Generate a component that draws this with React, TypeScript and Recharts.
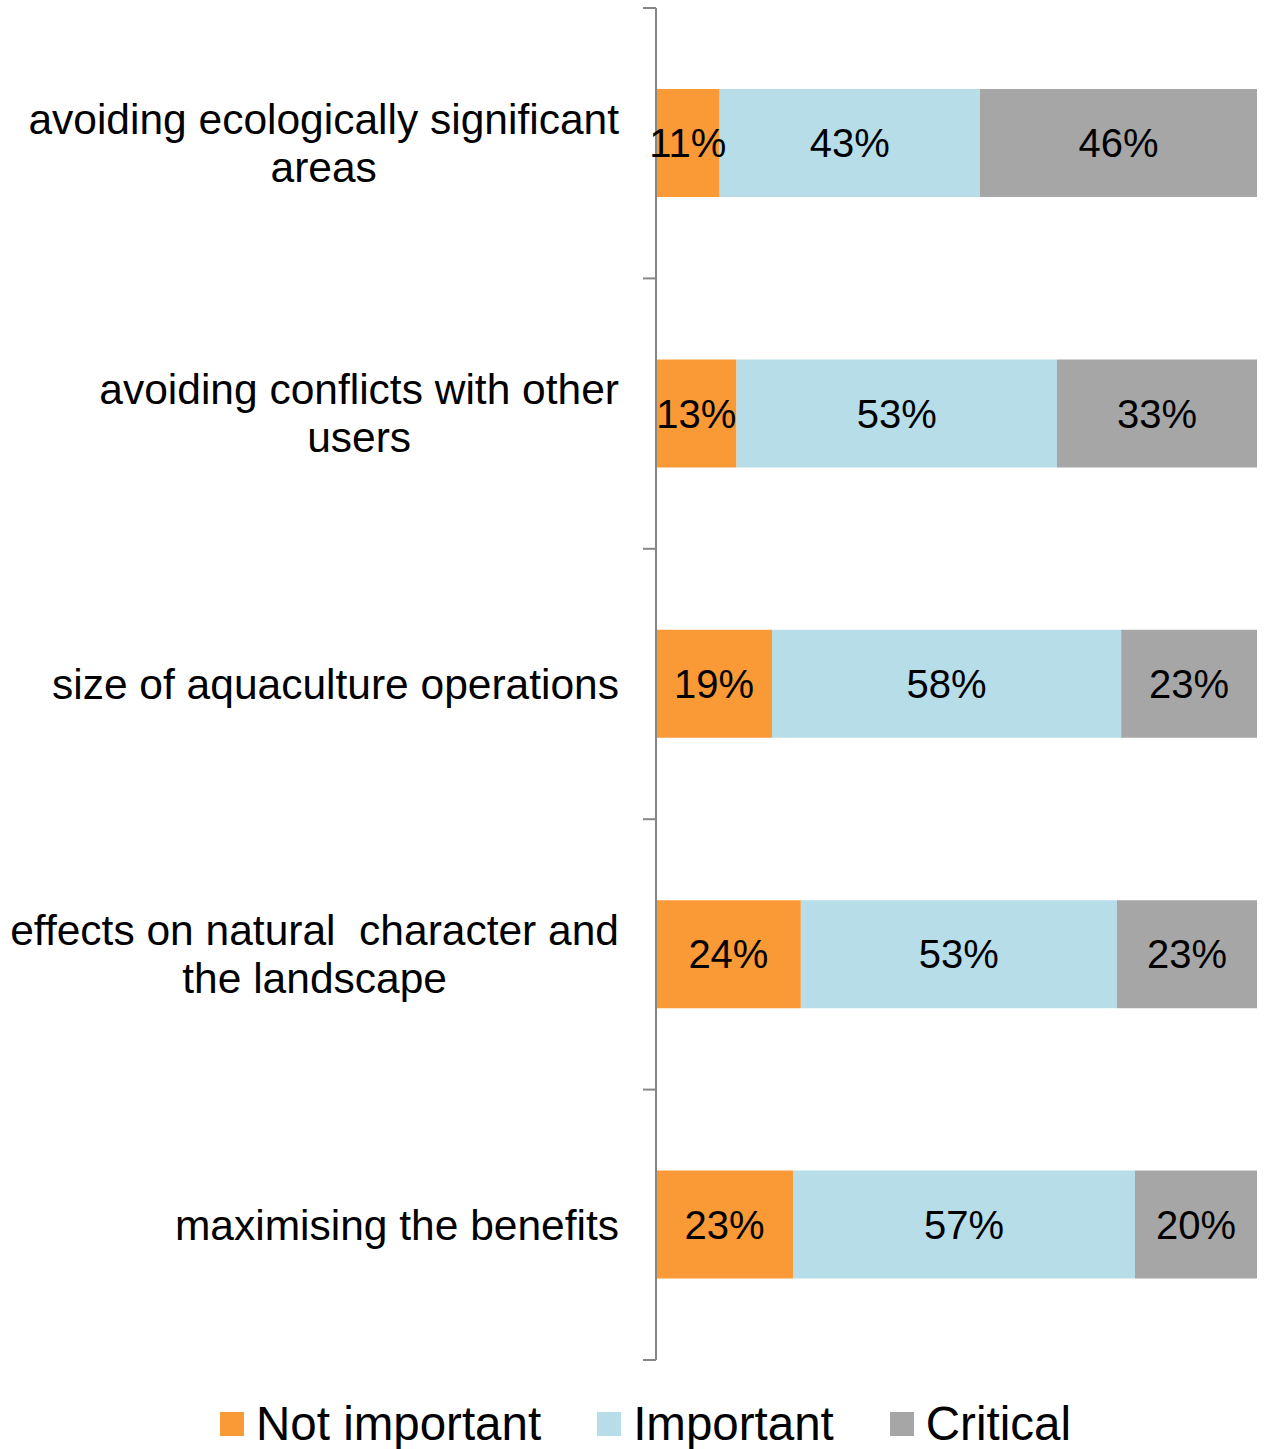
import { BarChart, Bar, XAxis, YAxis, Legend, LabelList } from "recharts";

const categories = [
    "avoiding ecologically significant\nareas",
    "avoiding conflicts with other\nusers",
    "size of aquaculture operations",
    "effects on natural  character and\nthe landscape",
    "maximising the benefits",
];
const notImportant = [10.6, 13.4, 19.3, 24.1, 22.8];
const important = [43.3, 53.3, 58.1, 52.6, 56.9];
const critical = [46.1, 33.3, 22.6, 23.3, 20.3];

const seriesNames = ["Not important", "Important", "Critical"];
const colors = ["#F99A36", "#B7DDE8", "#A6A6A6"];

const FONT = "'Liberation Sans', Arial, sans-serif";
const W = 1267;
const H = 1449;
const TOP = 8;
const LEGEND_H = 89;
const BAND = (H - TOP - LEGEND_H) / categories.length;

const data = categories.map((name, i) => ({
    name,
    notImportant: notImportant[i],
    important: important[i],
    critical: critical[i],
}));

let canvas: HTMLCanvasElement | null = null;
const measure = (s: string, size: number) => {
    if (!canvas) canvas = document.createElement("canvas");
    const ctx = canvas.getContext("2d")!;
    ctx.font = `${size}px ${FONT}`;
    return ctx.measureText(s).width;
};

const CategoryTick = (props: any) => {
    const { x, y, payload, index } = props;
    const ax = x + 8; // axis line position
    const lines = String(payload.value).split("\n");
    const fontSize = 42.5;
    const lineH = 48;
    const maxW = Math.max(...lines.map((l) => measure(l, fontSize)));
    const cx = ax - 37 - maxW / 2;
    const y0 = y - ((lines.length - 1) * lineH) / 2;
    return (
        <g>
            <line x1={ax - 13} x2={ax} y1={y - BAND / 2} y2={y - BAND / 2} stroke="#868686" strokeWidth={2} />
            {index === categories.length - 1 && (
                <line x1={ax - 13} x2={ax} y1={y + BAND / 2} y2={y + BAND / 2} stroke="#868686" strokeWidth={2} />
            )}
            <text textAnchor="middle" fontSize={fontSize} fontFamily={FONT} fill="#000" style={{ whiteSpace: "pre" }}>
                {lines.map((l, i) => (
                    <tspan key={i} x={cx} y={y0 + i * lineH} dy="0.35em">
                        {l}
                    </tspan>
                ))}
            </text>
        </g>
    );
};

const renderLegend = () => (
    <div
        style={{
            height: LEGEND_H,
            boxSizing: "border-box",
            paddingTop: 38,
            paddingLeft: 34,
            display: "flex",
            justifyContent: "center",
            alignItems: "center",
            fontFamily: FONT,
            fontSize: 47.5,
            lineHeight: "54px",
            alignContent: "flex-start",
        }}
    >
        {seriesNames.map((n, i) => (
            <div key={n} style={{ display: "flex", alignItems: "center", marginRight: i < 2 ? 56 : 0 }}>
                <span style={{ display: "inline-block", width: 24, height: 24, background: colors[i], marginRight: 12 }} />
                <span>{n}</span>
            </div>
        ))}
    </div>
);

const pct = (v: any) => `${Math.round(Number(v))}%`;

export default function App() {
    return (
        <div style={{ position: "absolute", left: 0, top: 0, background: "#fff" }}>
            <BarChart
                width={W}
                height={H}
                data={data}
                layout="vertical"
                margin={{ top: TOP, right: 10, bottom: 0, left: 0 }}
            >
                <XAxis type="number" domain={[0, 100]} hide />
                <YAxis
                    type="category"
                    dataKey="name"
                    width={656}
                    axisLine={{ stroke: "#868686", strokeWidth: 2 }}
                    tickLine={false}
                    interval={0}
                    tick={<CategoryTick />}
                />
                <Legend verticalAlign="bottom" content={renderLegend} />
                {(["notImportant", "important", "critical"] as const).map((k, i) => (
                    <Bar
                        key={k}
                        dataKey={k}
                        name={seriesNames[i]}
                        stackId="a"
                        fill={colors[i]}
                        barSize={108}
                        isAnimationActive={false}
                    >
                        <LabelList
                            dataKey={k}
                            position="center"
                            formatter={pct}
                            fill="#000"
                            fontSize={40}
                            fontFamily={FONT}
                        />
                    </Bar>
                ))}
            </BarChart>
        </div>
    );
}
